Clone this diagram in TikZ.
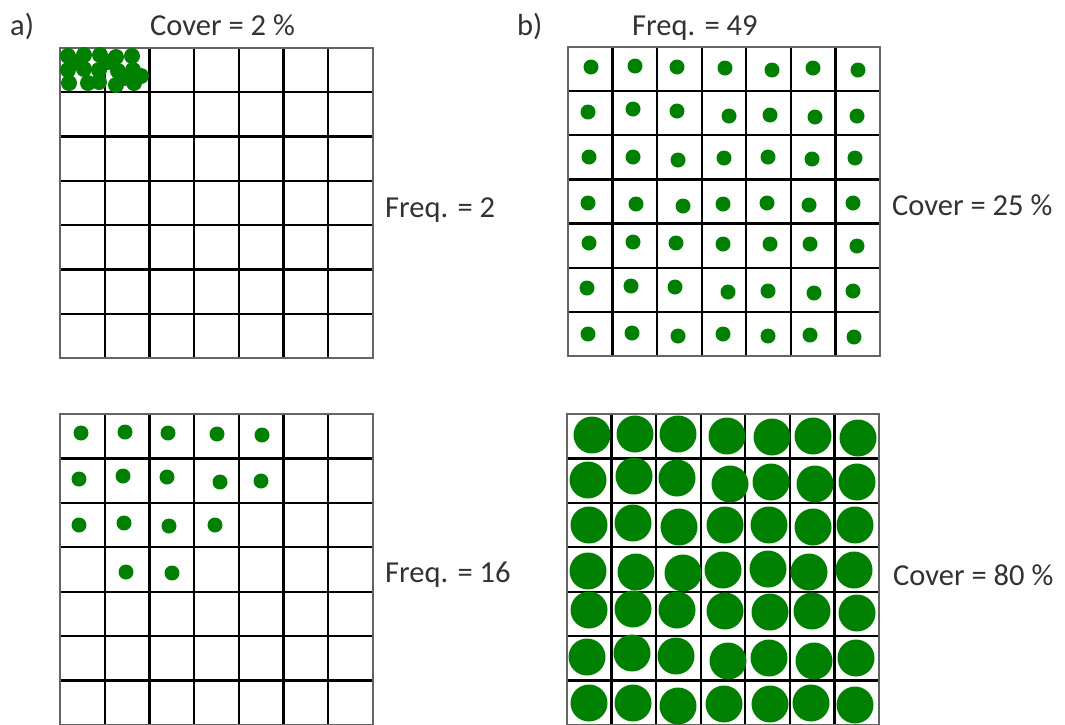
\documentclass[tikz,border=0pt]{standalone}
\usepackage{fontspec}
\setmainfont{Carlito}
\definecolor{dotgreen}{RGB}{0,128,0}
\definecolor{txt}{RGB}{50,50,50}
\definecolor{edgegray}{RGB}{100,100,100}
\tikzset{
  lbl/.style={anchor=base west, inner sep=0pt, text=txt, font=\fontsize{30.5}{37}\selectfont},
  gline/.style={draw=black, line width=2.4pt},
  gborder/.style={draw=edgegray, line width=1.8pt},
  gdot/.style={fill=dotgreen},
}
\newcommand\cellgrid[4]{%
  \foreach \i in {1,...,6} {
    \draw[gline] ({#1+\i*(#3-#1)/7},#2) -- ({#1+\i*(#3-#1)/7},#4);
    \draw[gline] (#1,{#2+\i*(#4-#2)/7}) -- (#3,{#2+\i*(#4-#2)/7});
  }
  \draw[gborder] (#1,#2) rectangle (#3,#4);
}
\begin{document}
\begin{tikzpicture}[x=1pt,y=-1pt]
\useasboundingbox (0,0) rectangle (1065,724);
\clip (0,0) rectangle (1065,724);
\fill[white] (0,0) rectangle (1065,724);

% grids
\cellgrid{60}{48}{373}{358}
\cellgrid{60}{414}{373}{725}
\cellgrid{568}{47}{880}{356}
\cellgrid{567}{414}{879}{725}

% a) top: cluster
\foreach \x/\y in {68/56,84/55,100/55,116/57,132/56,
                   68/70,84/69,99/70,118/71,133/70,141/76,
                   69/83,88/83,99/82,116/85,134/83,76/62,108/62,124/78}
  \fill[gdot] (\x,\y) circle[radius=8];

% a) bottom: 16 dots
\foreach \x/\y in {81/433,125/432,168/433,217/434,262/435,
                   79/479,123/476,167/477,220/482,261/481,
                   79/525,124/523,169/526,215/525,
                   126/572,172/573}
  \fill[gdot] (\x,\y) circle[radius=7.5];

% b) top: 49 small dots
\foreach \x/\y in {591/67,635/66,677/67,725/68,772/70,813/68,858/70,
                   588/112,633/109,677/111,729/116,770/115,815/117,857/116,
                   589/157,633/157,678/160,724/158,768/157,812/159,855/158,
                   588/203,636/204,683/206,723/204,767/203,809/205,853/203,
                   589/243,633/242,676/243,723/244,770/244,810/244,857/246,
                   587/288,631/286,675/287,728/292,768/291,814/293,853/291,
                   588/334,632/333,678/336,723/334,768/336,810/335,854/337}
  \fill[gdot] (\x,\y) circle[radius=7.5];

% b) bottom: 49 big dots
\foreach \x/\y in {592/435,635/434,678/434,727/436,772/437,813/436,858/438,
                   588/480,634/476,677/478,730/484,771/482,815/484,857/482,
                   589/525,633/523,679/527,725/525,769/525,813/527,855/525,
                   588/571,636/572,683/573,723/570,768/569,809/572,854/570,
                   589/610,633/609,677/610,725/611,770/612,812/611,857/613,
                   587/657,632/653,676/656,728/661,769/658,814/661,856/658,
                   589/703,633/703,678/706,724/704,770/704,811/703,855/705}
  \fill[gdot] (\x,\y) circle[radius=18.5];

% labels
\node[lbl] (la)  at (10,35)   {a)};
\node[lbl] (ca)  at (150,35)  {Cover = 2 \%};
\node[lbl] (lb)  at (517,35)  {b)};
\node[lbl] (fb)  at (632,35)  {Freq. = 49};
\node[lbl] (fa1) at (385,217) {Freq. = 2};
\node[lbl] (fa2) at (385,582) {Freq. = 16};
\node[lbl] (cb1) at (892,215) {Cover = 25 \%};
\node[lbl] (cb2) at (893,585) {Cover = 80 \%};
\end{tikzpicture}
\end{document}
